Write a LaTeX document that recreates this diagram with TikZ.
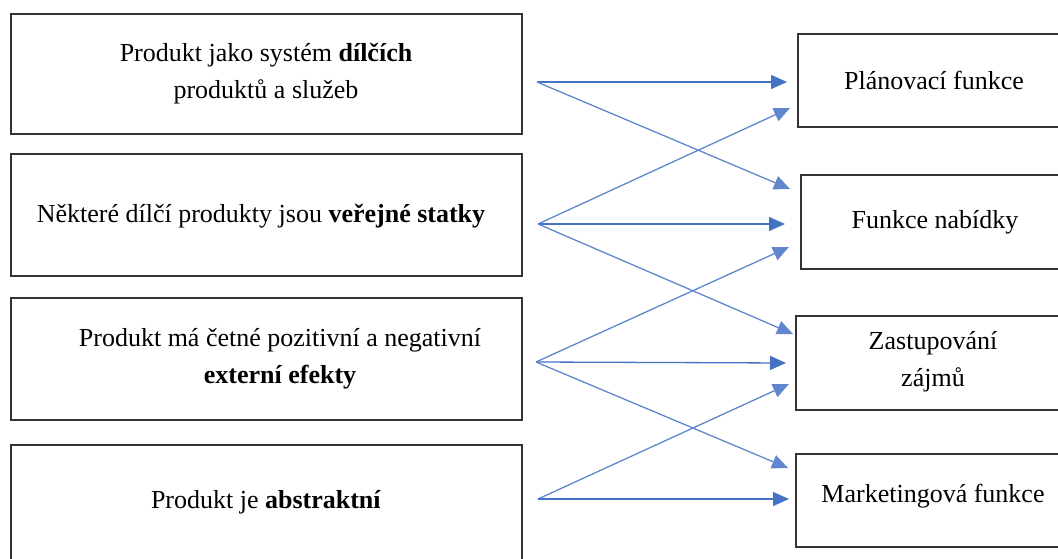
\documentclass[tikz,border=0pt]{standalone}
\usepackage{fontspec}
\setmainfont{Liberation Serif}
\usetikzlibrary{arrows.meta}
\definecolor{arr}{HTML}{4472C4}
\tikzset{
  box/.style={draw=black!80, line width=1.1pt, inner sep=0pt},
  txt/.style={inner sep=0pt, align=center, font=\fontsize{26}{37}\selectfont},
  conn/.style={draw=arr, line width=1.3pt, -{Triangle[length=16pt,width=14pt]}},
  diag/.style={conn, draw=arr!85},
}
\begin{document}
\begin{tikzpicture}[x=1pt,y=-1pt]
\useasboundingbox (0,0) rectangle (1058,559);
\clip (0,0) rectangle (1058,559);
% left boxes
\node[box, minimum width=511pt, minimum height=120pt] (L1) at (266.5,74) {};
\node[box, minimum width=511pt, minimum height=122pt] (L2) at (266.5,215) {};
\node[box, minimum width=511pt, minimum height=122pt] (L3) at (266.5,359) {};
\node[box, minimum width=511pt, minimum height=122pt] (L4) at (266.5,506) {};
\node[txt] (L1t) at (266,74) {Produkt jako systém \textbf{dílčích}\\produktů a služeb};
\node[txt] (L2t) at (261,216) {Některé dílčí produkty jsou \textbf{veřejné statky}};
\node[txt] (L3t) at (280,359) {Produkt má četné pozitivní a negativní\\\textbf{externí efekty}};
\node[txt] (L4t) at (266,502) {Produkt je \textbf{abstraktní}};
% right boxes
\node[box, minimum width=272pt, minimum height=93pt] (R1) at (934,80.5) {};
\node[box, minimum width=269pt, minimum height=94pt] (R2) at (935.5,222) {};
\node[box, minimum width=274pt, minimum height=94pt] (R3) at (933,363) {};
\node[box, minimum width=274pt, minimum height=93pt] (R4) at (933,500.5) {};
\node[txt] (R1t) at (934,80) {Plánovací funkce};
\node[txt] (R2t) at (935,222) {Funkce nabídky};
\node[txt] (R3t) at (933,362) {Zastupování\\zájmů};
\node[txt] (R4t) at (933,496) {Marketingová funkce};
% connector end points
\coordinate (s1) at (537,82);
\coordinate (s2) at (538,224);
\coordinate (s3) at (536,362);
\coordinate (s4) at (538,499);
\coordinate (t1a) at (787,82);
\coordinate (t1b) at (790,108);
\coordinate (t2a) at (790,189);
\coordinate (t2b) at (785,224);
\coordinate (t2c) at (789,247);
\coordinate (t3a) at (793,334);
\coordinate (t3b) at (786,363);
\coordinate (t3c) at (789,384);
\coordinate (t4a) at (788,468);
\coordinate (t4b) at (789,499);
% connectors
\draw[conn] (s1) -- (t1a);
\draw[diag] (s1) -- (t2a);
\draw[diag] (s2) -- (t1b);
\draw[conn] (s2) -- (t2b);
\draw[diag] (s2) -- (t3a);
\draw[diag] (s3) -- (t2c);
\draw[conn] (s3) -- (t3b);
\draw[diag] (s3) -- (t4a);
\draw[diag] (s4) -- (t3c);
\draw[conn] (s4) -- (t4b);
\end{tikzpicture}
\end{document}
